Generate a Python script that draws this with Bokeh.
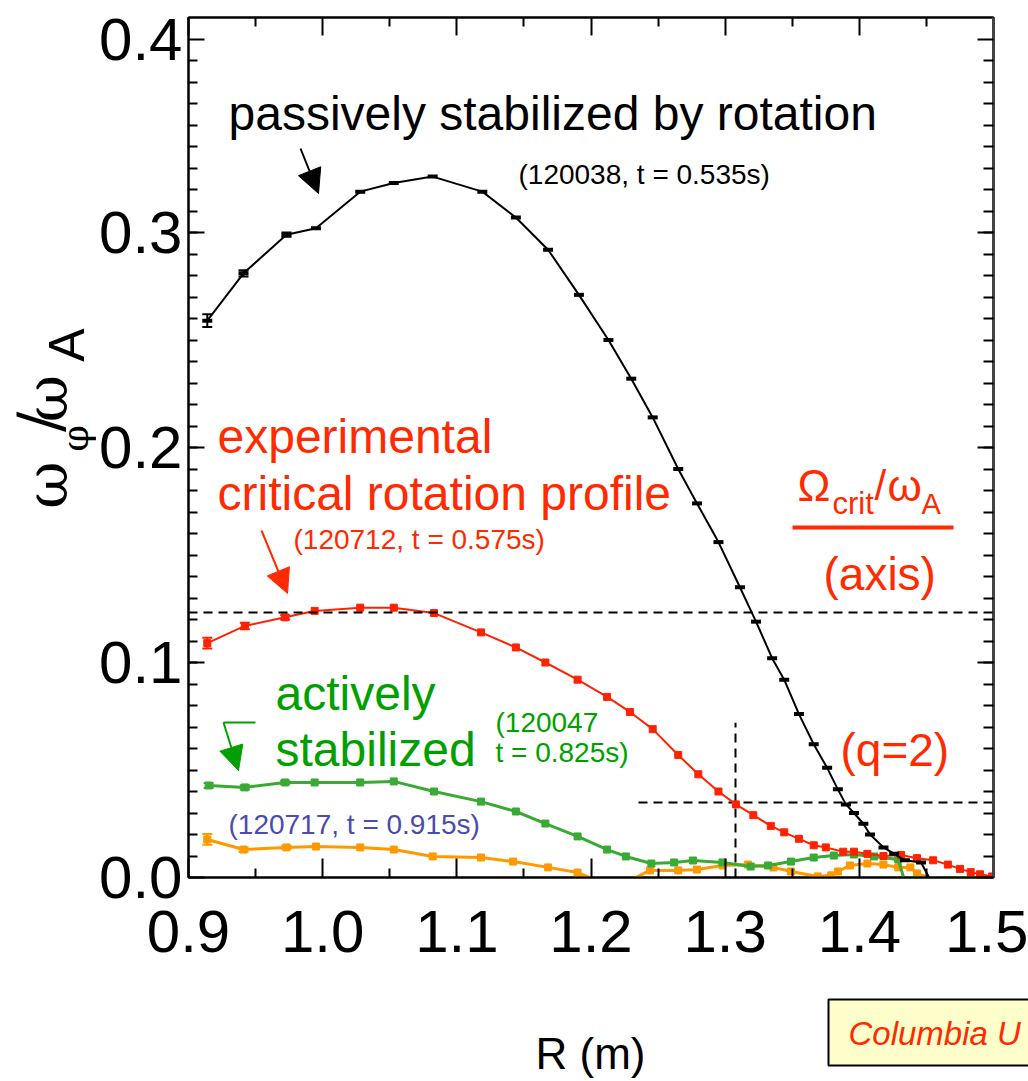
import math
from bokeh.plotting import figure
from bokeh.layouts import column, row
from bokeh.models import (Range1d, LinearAxis, FixedTicker, PrintfTickFormatter, Label,
                          Arrow, NormalHead, Span, Whisker, ColumnDataSource, TeeHead)
from bokeh.embed import file_html
from bokeh.resources import INLINE

# ---------------- data ----------------
R_black = [0.914, 0.941, 0.973, 0.995, 1.028, 1.053, 1.082, 1.119, 1.144, 1.168,
           1.191, 1.213, 1.230, 1.246, 1.265, 1.279, 1.295, 1.311, 1.323, 1.335,
           1.344, 1.355, 1.366, 1.376, 1.384, 1.390, 1.396, 1.403, 1.408, 1.418,
           1.426, 1.434, 1.446, 1.452]
w_black = [0.259, 0.281, 0.299, 0.302, 0.319, 0.323, 0.326, 0.319, 0.307, 0.292,
           0.271, 0.250, 0.232, 0.214, 0.190, 0.174, 0.156, 0.135, 0.119, 0.102,
           0.092, 0.076, 0.062, 0.051, 0.041, 0.034, 0.030, 0.025, 0.020, 0.014,
           0.011, 0.008, 0.007, 0.0]

R_red = [0.914, 0.942, 0.972, 0.994, 1.028, 1.053, 1.083, 1.118, 1.144, 1.166,
         1.190, 1.212, 1.229, 1.246, 1.265, 1.280, 1.295, 1.308, 1.321, 1.334,
         1.344, 1.355, 1.366, 1.375, 1.388, 1.396, 1.406, 1.418, 1.431, 1.443,
         1.455, 1.466, 1.475, 1.483, 1.490, 1.499]
w_red = [0.109, 0.117, 0.121, 0.124, 0.1255, 0.1255, 0.123, 0.114, 0.107, 0.100,
         0.092, 0.084, 0.077, 0.069, 0.057, 0.048, 0.040, 0.034, 0.029, 0.024,
         0.021, 0.018, 0.015, 0.014, 0.012, 0.012, 0.011, 0.010, 0.0105, 0.009,
         0.008, 0.006, 0.004, 0.0025, 0.0015, 0.0005]

R_green = [0.915, 0.942, 0.972, 0.994, 1.028, 1.053, 1.083, 1.118, 1.144, 1.166,
           1.190, 1.212, 1.226, 1.245, 1.262, 1.276, 1.298, 1.319, 1.332, 1.349,
           1.366, 1.381, 1.396, 1.411, 1.429, 1.433, 1.500]
w_green = [0.0428, 0.0419, 0.0442, 0.0442, 0.0442, 0.0447, 0.040, 0.0353, 0.0307, 0.0251,
           0.0191, 0.013, 0.0098, 0.0065, 0.007, 0.0079, 0.007, 0.0051, 0.0056, 0.0074,
           0.0093, 0.0102, 0.0107, 0.0098, 0.0084, 0.0, 0.0]

R_orange = [0.914, 0.941, 0.973, 0.995, 1.028, 1.053, 1.082, 1.118, 1.142, 1.168,
            1.190, 1.207, 1.227, 1.244, 1.265, 1.279, 1.298, 1.317, 1.336, 1.349,
            1.369, 1.379, 1.384, 1.393, 1.406, 1.418, 1.429, 1.438, 1.443, 1.451,
            1.496]
w_orange = [0.0177, 0.013, 0.014, 0.0144, 0.014, 0.013, 0.0098, 0.0093, 0.0074, 0.0047,
            0.0023, -0.002, -0.002, 0.0033, 0.0033, 0.0037, 0.0056, 0.006, 0.0047, 0.0028,
            0.0005, 0.001, 0.0028, 0.0056, 0.0065, 0.006, 0.0047, 0.0047, 0.0019, 0.0,
            0.0]

# error bars on the first points of each profile
err_black = [0.003, 0.0015, 0.001]
err_red = [0.0025, 0.0015, 0.001]
err_green = [0.0012, 0.001, 0.0008]
err_orange = [0.0025, 0.001, 0.0008]

# critical-rotation reference values
crit_axis = 0.1233      # Omega_crit/omega_A on axis
crit_q2 = 0.0349        # Omega_crit/omega_A at q=2
R_q2 = 1.3077           # radius of q=2 surface
R_q2_line_start = 1.2354
w_q2_line_top = 0.072

x_ticks = [0.9, 1.0, 1.1, 1.2, 1.3, 1.4, 1.5]
x_minor = [0.95, 1.05, 1.15, 1.25, 1.35, 1.45]
y_ticks = [0.0, 0.1, 0.2, 0.3, 0.39]
y_minor = [i / 100 for i in range(1, 39)]

# ---------------- layout (page pixels) ----------------
W, H = 1028, 1081
LEFT_W = 96          # strip holding the y title
MAIN_H = 995         # main figure height; below it a strip for R (m)
FL, FR, FT, FB = 188, 993, 17, 877
x0, x1 = 0.9, 1.5
y0, y1 = 0.0, 0.4
BASE_FIX = 0.3       # em correction so that the given y is the visual baseline

RED = "#ff2a00"
REDL = "#ff2200"
GREENT = "#00a000"
GREENL = "#3aaa35"
ORANGE = "#ff9900"
BLUE = "#4b4bb0"
SANS = "Liberation Sans"


def dx(px):
    return x0 + (px - FL) * (x1 - x0) / (FR - FL)


def dy(py):
    return y0 + (FB - py) * (y1 - y0) / (FB - FT)


p = figure(width=W - LEFT_W, height=MAIN_H, x_range=Range1d(x0, x1), y_range=Range1d(y0, y1),
           output_backend="svg", toolbar_location=None,
           min_border_left=FL - LEFT_W, min_border_right=W - FR,
           min_border_top=FT, min_border_bottom=MAIN_H - FB)
p.grid.visible = False
p.outline_line_color = "black"
p.outline_line_width = 2
p.background_fill_color = "white"
p.border_fill_color = "white"

xt = FixedTicker(ticks=x_ticks, minor_ticks=x_minor)
yt = FixedTicker(ticks=y_ticks, minor_ticks=y_minor)

TICKFONT = "Liberation Sans"
TICKSIZE = "60px"

xa = p.xaxis[0]
xa.ticker = xt
xa.formatter = PrintfTickFormatter(format="%.1f")
xa.major_label_text_font = TICKFONT
xa.major_label_text_font_size = TICKSIZE
xa.major_label_text_color = "black"
xa.major_label_standoff = 33
xa.major_tick_in = 19
xa.major_tick_out = 0
xa.minor_tick_in = 9
xa.minor_tick_out = 0
xa.axis_line_width = 2
xa.major_tick_line_width = 2
xa.minor_tick_line_width = 2

ya = p.yaxis[0]
ya.ticker = yt
ya.formatter = PrintfTickFormatter(format="%.1f")
ya.major_label_text_font = TICKFONT
ya.major_label_text_font_size = TICKSIZE
ya.major_label_text_color = "black"
ya.major_label_standoff = 6
ya.major_tick_in = 16
ya.major_tick_out = 0
ya.minor_tick_in = 9
ya.minor_tick_out = 0
ya.axis_line_width = 2
ya.major_tick_line_width = 2
ya.minor_tick_line_width = 2

top = LinearAxis(ticker=FixedTicker(ticks=x_ticks, minor_ticks=x_minor),
                 major_label_text_font_size="0px", major_label_standoff=0,
                 major_label_overrides={t: "" for t in x_ticks},
                 major_tick_in=18, major_tick_out=0, minor_tick_in=9, minor_tick_out=0,
                 axis_line_width=2, major_tick_line_width=2, minor_tick_line_width=2)
p.add_layout(top, "above")
right = LinearAxis(ticker=FixedTicker(ticks=y_ticks, minor_ticks=y_minor),
                   major_label_text_font_size="0px", major_label_standoff=0,
                   major_label_overrides={t: "" for t in y_ticks},
                   major_tick_in=16, major_tick_out=0, minor_tick_in=10, minor_tick_out=0,
                   axis_line_width=3, axis_line_color="#444444",
                   major_tick_line_width=2, minor_tick_line_width=2)
p.add_layout(right, "right")

# ---------------- reference dashed lines ----------------
p.add_layout(Span(location=crit_axis, dimension="width", line_color="black",
                  line_width=2, line_dash="9 6"))
p.segment(x0=[R_q2_line_start], y0=[crit_q2], x1=[x1], y1=[crit_q2],
          line_color="black", line_width=2, line_dash="9 6")
p.segment(x0=[R_q2], y0=[y0], x1=[R_q2], y1=[w_q2_line_top],
          line_color="black", line_width=2, line_dash="9 6")

# ---------------- profiles ----------------
p.line(R_orange, w_orange, line_color=ORANGE, line_width=3)
p.scatter(R_orange[:-2], w_orange[:-2], marker="square", size=7, color=ORANGE)

p.line(R_green, w_green, line_color=GREENL, line_width=3)
p.scatter(R_green[:-2], w_green[:-2], marker="square", size=7, color=GREENL)

p.line(R_red, w_red, line_color=REDL, line_width=2)
p.scatter(R_red, w_red, marker="square", size=7, color=REDL)

p.line(R_black, w_black, line_color="black", line_width=2)
p.scatter(R_black[:-1], w_black[:-1], marker="dash", size=10, line_width=4, color="black")

for Rs, ws, es, col in [(R_black, w_black, err_black, "black"),
                        (R_red, w_red, err_red, REDL),
                        (R_green, w_green, err_green, GREENL),
                        (R_orange, w_orange, err_orange, ORANGE)]:
    n = len(es)
    src = ColumnDataSource(dict(x=Rs[:n], lo=[w - e for w, e in zip(ws[:n], es)],
                                up=[w + e for w, e in zip(ws[:n], es)]))
    p.add_layout(Whisker(source=src, base="x", lower="lo", upper="up",
                         line_color=col, line_width=2,
                         lower_head=TeeHead(size=10, line_color=col, line_width=2),
                         upper_head=TeeHead(size=10, line_color=col, line_width=2)))


# ---------------- texts ----------------
def lab(fig, x, y, text, size, color, font=SANS, style="normal", align="left",
        baseline="alphabetic", angle=0.0, **kw):
    L = Label(x=x, y=y, text=text, text_font=font,
              text_font_size=f"{size}px", text_color=color, text_font_style=style,
              text_align=align, text_baseline=baseline, angle=angle, **kw)
    fig.add_layout(L)
    return L


def mlab(px, py, text, size, color, **kw):
    # (px, py): page pixel of the left end of the visual baseline
    return lab(p, dx(px), dy(py - BASE_FIX * size), text, size, color, **kw)


mlab(228, 127, "passively stabilized by rotation", 48, "black")
mlab(518, 182, "(120038, t = 0.535s)", 28, "black")
mlab(217, 450, "experimental", 48, RED)
mlab(217, 507, "critical rotation profile", 48, RED)
mlab(293, 547, "(120712, t = 0.575s)", 28, RED)

mlab(797, 498, "Ω", 44, RED)
mlab(832, 512, "crit", 31, RED)
mlab(874, 498, "/", 42, RED)
mlab(887, 498, "ω", 44, RED)
mlab(921, 512, "A", 29, RED)
p.add_layout(Arrow(end=None, x_start=dx(792), y_start=dy(527), x_end=dx(953),
                   y_end=dy(527), line_color=RED, line_width=4))
mlab(823, 587, "(axis)", 46, RED)
mlab(840, 763, "(q=2)", 46, RED)

mlab(275, 707, "actively", 48, GREENT)
mlab(275, 763, "stabilized", 48, GREENT)
mlab(495, 730, "(120047", 28, GREENT)
mlab(495, 760, "t = 0.825s)", 28, GREENT)
mlab(228, 832, "(120717, t = 0.915s)", 28, BLUE)

# ---------------- arrows ----------------
p.add_layout(Arrow(end=NormalHead(size=24, fill_color="black", line_color="black"),
                   x_start=dx(300), y_start=dy(148), x_end=dx(318), y_end=dy(193),
                   line_color="black", line_width=2))
p.add_layout(Arrow(end=NormalHead(size=24, fill_color=RED, line_color=RED),
                   x_start=dx(261), y_start=dy(530), x_end=dx(287), y_end=dy(593),
                   line_color=RED, line_width=2))
p.add_layout(Arrow(end=None, x_start=dx(255), y_start=dy(722), x_end=dx(223),
                   y_end=dy(722), line_color=GREENT, line_width=2))
p.add_layout(Arrow(end=NormalHead(size=24, fill_color=GREENT, line_color=GREENT),
                   x_start=dx(223), y_start=dy(722), x_end=dx(238), y_end=dy(770),
                   line_color=GREENT, line_width=2))


# ---------------- side strips for the axis titles ----------------
def strip(w, h, xr, yr):
    f = figure(width=w, height=h, x_range=Range1d(*xr), y_range=Range1d(*yr),
               output_backend="svg", toolbar_location=None,
               x_axis_location=None, y_axis_location=None,
               min_border_left=0, min_border_right=0, min_border_top=0, min_border_bottom=0)
    f.grid.visible = False
    f.outline_line_color = None
    f.background_fill_color = "white"
    f.border_fill_color = "white"
    return f


# left strip: data coords = page pixels (y downwards); rotated glyphs,
# positions include an empirical shift for the rotated text box
left = strip(LEFT_W, MAIN_H, (0, LEFT_W), (MAIN_H, 0))
A90 = math.pi / 2
YT = dict(angle=A90, align="center", baseline="middle")
lab(left, 46, 541, "ω", 58, "black", font="DejaVu Serif", **YT)
lab(left, 74, 487, "φ", 38, "black", font="DejaVu Serif", **YT)
lab(left, 38, 468, "/", 60, "black", font="DejaVu Serif", **YT)
lab(left, 46, 441, "ω", 58, "black", font="DejaVu Serif", **YT)
lab(left, 66, 379, "A", 50, "black", **YT)

# bottom strip: data coords = page pixels
bottom = strip(W, H - MAIN_H, (0, W), (H, MAIN_H))
lab(bottom, 590, 1066 - BASE_FIX * 44, "R (m)", 44, "black", align="center")
bottom.add_layout(Label(x=828, y=1042 - BASE_FIX * 33, text="Columbia U", text_font=SANS,
                        text_font_size="33px", text_font_style="italic", text_color=RED,
                        text_baseline="alphabetic", background_fill_color="#ffffcc",
                        border_line_color="black", border_line_width=2,
                        padding=dict(left=20, right=40, top=15, bottom=14)))

layout = column(row(left, p, spacing=0), bottom, spacing=0)

open("out.html", "w").write(file_html(layout, INLINE))
